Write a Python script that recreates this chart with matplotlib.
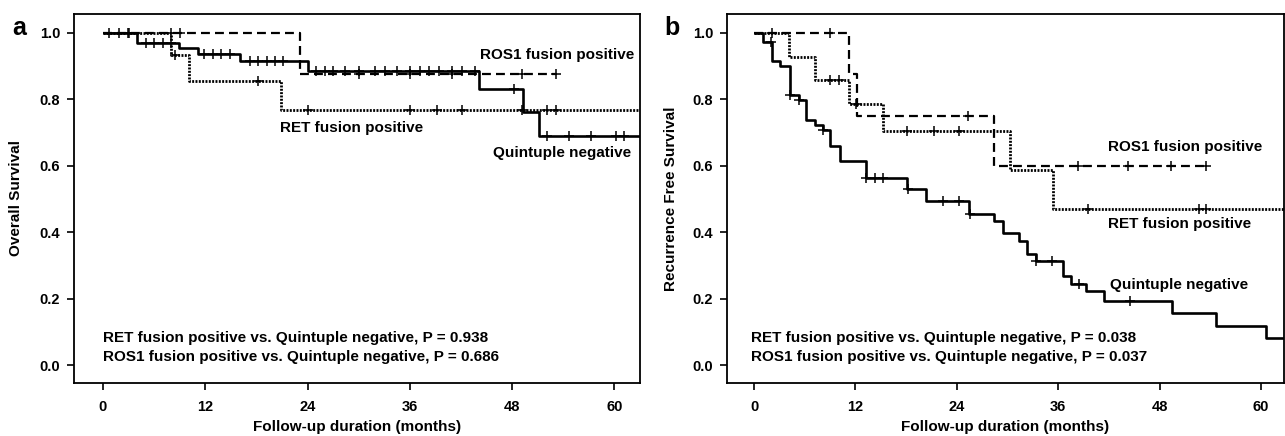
import matplotlib
matplotlib.use('Agg')
import matplotlib.pyplot as plt
import numpy as np

plt.rcParams['font.family'] = ['Liberation Sans', 'DejaVu Sans']

# ---------------- Panel a: Overall survival ----------------
os_neg_times = [0, 4.0, 8.9, 11.1, 16.1, 24.1, 44.1, 49.3, 51.1]
os_neg_surv = [1.0, 0.971, 0.954, 0.936, 0.914, 0.884, 0.832, 0.762, 0.689]
os_neg_end = 63.0
os_neg_censor = [0.7, 1.9, 2.9, 5.1, 6.0, 7.0, 8.0, 11.9, 12.9, 13.9, 14.9,
                 17.2, 18.2, 19.2, 20.2, 21.1, 25.0, 26.0, 27.0, 28.4, 30.0,
                 31.9, 33.1, 34.5, 36.0, 37.2, 38.2, 39.4, 40.9, 42.1, 43.7,
                 48.2, 52.1, 54.7, 57.2, 60.2, 61.1]

os_ros_times = [0, 23.1]
os_ros_surv = [1.0, 0.875]
os_ros_end = 53.1
os_ros_censor = [8.0, 9.0, 30.0, 36.0, 41.0, 49.2, 53.1]

os_ret_times = [0, 8.0, 10.1, 20.9]
os_ret_surv = [1.0, 0.933, 0.855, 0.769]
os_ret_end = 63.0
os_ret_censor = [3.0, 8.5, 18.2, 24.1, 36.0, 39.2, 42.1, 49.2, 52.1, 53.1]

# ---------------- Panel b: Recurrence free survival ----------------
rfs_neg_times = [0, 1.1, 2.1, 3.1, 4.2, 5.3, 6.2, 7.2, 8.1, 9.0, 10.2, 13.2,
                 18.1, 20.3, 25.4, 28.4, 29.4, 31.3, 32.3, 33.3, 36.5, 37.5,
                 39.3, 41.4, 49.5, 54.6, 60.6]
rfs_neg_surv = [1.0, 0.974, 0.914, 0.899, 0.814, 0.799, 0.739, 0.724, 0.709,
                0.661, 0.614, 0.564, 0.529, 0.493, 0.456, 0.433, 0.398, 0.373,
                0.333, 0.313, 0.268, 0.243, 0.223, 0.193, 0.156, 0.118, 0.08]
rfs_neg_end = 63.0
rfs_neg_censor = [2.0, 4.3, 5.3, 8.1, 13.3, 14.3, 15.3, 18.2, 22.3, 24.2,
                  25.5, 33.4, 35.2, 38.4, 44.5]

rfs_ros_times = [0, 11.2, 12.2, 28.4]
rfs_ros_surv = [1.0, 0.875, 0.75, 0.60]
rfs_ros_end = 53.5
rfs_ros_censor = [2.1, 9.0, 25.3, 38.3, 44.2, 49.3, 53.5]

rfs_ret_times = [0, 4.1, 7.2, 11.2, 15.3, 30.3, 35.4]
rfs_ret_surv = [1.0, 0.929, 0.857, 0.786, 0.704, 0.587, 0.470]
rfs_ret_end = 63.0
rfs_ret_censor = [9.0, 10.0, 12.1, 18.1, 21.3, 24.2, 39.5, 52.7, 53.5]

x_ticks = [0, 12, 24, 36, 48, 60]
y_ticks = [0.0, 0.2, 0.4, 0.6, 0.8, 1.0]

FS = 11
W = 1285
H = 436
fig = plt.figure(figsize=(W / 100, H / 100), dpi=100)

ax_a = fig.add_axes([74 / W, 1 - 383 / H, 566 / W, 369 / H])
ax_b = fig.add_axes([727 / W, 1 - 383 / H, 557 / W, 369 / H])

styles = {
    'neg': dict(color='black', lw=1.9, linestyle='-'),
    'ros': dict(color='black', lw=1.6, dashes=(4.0, 2.3)),
    'ret': dict(color='black', lw=2.0, dashes=(0.7, 0.5)),
}


def km(ax, times, surv, end, censor, key):
    xs = list(times) + [end]
    ys = list(surv) + [surv[-1]]
    ax.step(xs, ys, where='post', solid_capstyle='butt', **styles[key])
    t = np.asarray(times)
    s = np.asarray(surv)
    idx = np.searchsorted(t, np.asarray(censor), side='right') - 1
    ax.plot(censor, s[idx], linestyle='none', marker='+', color='black',
            markersize=6.5, markeredgewidth=1.1)


def style_axes(ax, xlim, ylabel, letter, label_x, letter_x):
    ax.set_xlim(*xlim)
    ax.set_ylim(-0.054, 1.057)
    ax.set_xticks(x_ticks)
    ax.set_yticks(y_ticks)
    ax.set_yticklabels([f"{v:.1f}" for v in y_ticks])
    for sp in ax.spines.values():
        sp.set_linewidth(1.3)
    ax.tick_params(direction='out', length=5, width=1.2, labelsize=10.5)
    ax.tick_params(axis='x', pad=7.5)
    ax.tick_params(axis='y', pad=5)
    for lab in ax.get_xticklabels() + ax.get_yticklabels():
        lab.set_fontweight('bold')
    ax.set_xlabel('Follow-up duration (months)', fontsize=FS,
                  fontweight='bold', labelpad=4)
    ax.set_ylabel(ylabel, fontsize=FS, fontweight='bold')
    ax.yaxis.set_label_coords(label_x, 0.5)
    ax.text(letter_x, 0.943, letter, transform=ax.transAxes, fontsize=18,
            fontweight='bold', ha='center', va='baseline')


# Panel a
km(ax_a, os_neg_times, os_neg_surv, os_neg_end, os_neg_censor, 'neg')
km(ax_a, os_ros_times, os_ros_surv, os_ros_end, os_ros_censor, 'ros')
km(ax_a, os_ret_times, os_ret_surv, os_ret_end, os_ret_censor, 'ret')
style_axes(ax_a, (-3.4, 63.0), 'Overall Survival', 'a', -0.090, -0.096)
ax_a.text(44.2, 0.934, 'ROS1 fusion positive', fontsize=FS, fontweight='bold',
          va='center')
ax_a.text(20.8, 0.714, 'RET fusion positive', fontsize=FS, fontweight='bold',
          va='center')
ax_a.text(45.8, 0.639, 'Quintuple negative', fontsize=FS, fontweight='bold',
          va='center')
ax_a.text(0, 0.082, 'RET fusion positive vs. Quintuple negative, P = 0.938',
          fontsize=FS, fontweight='bold', va='center')
ax_a.text(0, 0.025, 'ROS1 fusion positive vs. Quintuple negative, P = 0.686',
          fontsize=FS, fontweight='bold', va='center')

# Panel b
km(ax_b, rfs_neg_times, rfs_neg_surv, rfs_neg_end, rfs_neg_censor, 'neg')
km(ax_b, rfs_ros_times, rfs_ros_surv, rfs_ros_end, rfs_ros_censor, 'ros')
km(ax_b, rfs_ret_times, rfs_ret_surv, rfs_ret_end, rfs_ret_censor, 'ret')
style_axes(ax_b, (-3.2, 62.7), 'Recurrence Free Survival', 'b', -0.088,
           -0.0996)
ax_b.text(41.9, 0.657, 'ROS1 fusion positive', fontsize=FS, fontweight='bold',
          va='center')
ax_b.text(41.9, 0.425, 'RET fusion positive', fontsize=FS, fontweight='bold',
          va='center')
ax_b.text(42.1, 0.241, 'Quintuple negative', fontsize=FS, fontweight='bold',
          va='center')
ax_b.text(-0.4, 0.082, 'RET fusion positive vs. Quintuple negative, P = 0.038',
          fontsize=FS, fontweight='bold', va='center')
ax_b.text(-0.4, 0.025, 'ROS1 fusion positive vs. Quintuple negative, P = 0.037',
          fontsize=FS, fontweight='bold', va='center')

fig.savefig('out.png', dpi=100)
